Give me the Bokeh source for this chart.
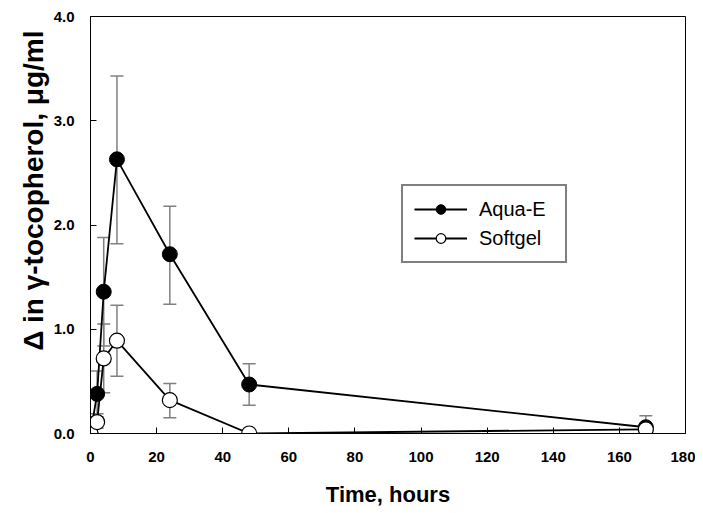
from bokeh.plotting import figure
from bokeh.models import (ColumnDataSource, Whisker, TeeHead, Legend, LegendItem,
                          FixedTicker, Range1d, Title)
from bokeh.embed import file_html
from bokeh.resources import INLINE

time_h = [0, 2, 4, 8, 24, 48, 168]
aqua = [0.0, 0.38, 1.36, 2.63, 1.72, 0.47, 0.06]
aqua_upper = [0.0, 0.60, 1.88, 3.43, 2.18, 0.67, 0.17]
aqua_lower = [0.0, 0.16, 0.84, 1.82, 1.24, 0.27, 0.0]
soft = [0.0, 0.11, 0.72, 0.89, 0.32, 0.0, 0.04]
soft_upper = [0.0, 0.19, 1.05, 1.23, 0.48, 0.0, 0.06]
soft_lower = [0.0, 0.05, 0.39, 0.55, 0.15, 0.0, 0.02]
x_ticks = [0, 20, 40, 60, 80, 100, 120, 140, 160, 180]
y_ticks = [0, 1, 2, 3, 4]

FONT = "Liberation Sans"
GRAY = "#808080"

p = figure(width=695, height=509, output_backend="svg", toolbar_location=None,
           x_range=Range1d(0, 180), y_range=Range1d(0, 4),
           min_border_left=90, min_border_right=10, min_border_top=16, min_border_bottom=72)
p.xgrid.visible = False
p.ygrid.visible = False
p.outline_line_color = "black"
p.outline_line_width = 1
p.background_fill_color = "white"
p.border_fill_color = "white"

src_a = ColumnDataSource(dict(x=time_h, y=aqua, up=aqua_upper, lo=aqua_lower))
src_s = ColumnDataSource(dict(x=time_h, y=soft, up=soft_upper, lo=soft_lower))

for src in (src_a, src_s):
    w = Whisker(source=src, base="x", upper="up", lower="lo", line_color=GRAY, line_width=1.5,
                upper_head=TeeHead(size=13, line_color=GRAY, line_width=1.5),
                lower_head=TeeHead(size=13, line_color=GRAY, line_width=1.5), level="underlay")
    p.add_layout(w)

la = p.line("x", "y", source=src_a, line_color="black", line_width=1.8)
ls = p.line("x", "y", source=src_s, line_color="black", line_width=1.8)
ma = p.scatter("x", "y", source=src_a, size=15, fill_color="black", line_color="black", line_width=1)
ms = p.scatter("x", "y", source=src_s, size=15, fill_color="white", line_color="black", line_width=1.2)

for ax in (p.xaxis[0], p.yaxis[0]):
    ax.major_tick_in = 6
    ax.major_tick_out = 0
    ax.minor_tick_in = 0
    ax.minor_tick_out = 0
    ax.axis_line_color = "black"
    ax.major_label_text_font = FONT
    ax.major_label_text_font_style = "bold"
    ax.major_label_text_font_size = "15px"
    ax.major_label_text_color = "black"
    ax.axis_label_text_font = FONT
    ax.axis_label_text_font_style = "bold"
    ax.axis_label_text_color = "black"

p.xaxis.ticker = FixedTicker(ticks=x_ticks)
p.yaxis.ticker = FixedTicker(ticks=y_ticks)
p.yaxis.major_label_overrides = {t: f"{t:.1f}" for t in y_ticks}
p.xaxis.major_label_standoff = 18
p.yaxis.major_label_standoff = 16
p.xaxis.axis_label = "Time, hours"
p.xaxis.axis_label_text_font_size = "22px"
p.xaxis.axis_label_standoff = 17

ytitle = Title(text="\u0394 in \u03b3-tocopherol, \u03bcg/ml", align="right", offset=14,
               text_font=FONT, text_font_style="bold", text_font_size="28px",
               text_color="black", standoff=4)
p.add_layout(ytitle, "left")

legend = Legend(items=[LegendItem(label="Aqua-E", renderers=[la, ma]),
                       LegendItem(label="Softgel", renderers=[ls, ms])],
                location=(311, 170))
legend.border_line_color = "black"
legend.border_line_width = 2
legend.label_text_font = FONT
legend.label_text_font_size = "20px"
legend.label_text_color = "black"
legend.glyph_width = 53
legend.glyph_height = 24
legend.label_height = 24
legend.label_width = 75
legend.spacing = 5
legend.padding = 11
legend.margin = 0
legend.label_standoff = 12
legend.background_fill_alpha = 1
p.add_layout(legend, "center")

open("out.html", "w").write(file_html(p, INLINE))
